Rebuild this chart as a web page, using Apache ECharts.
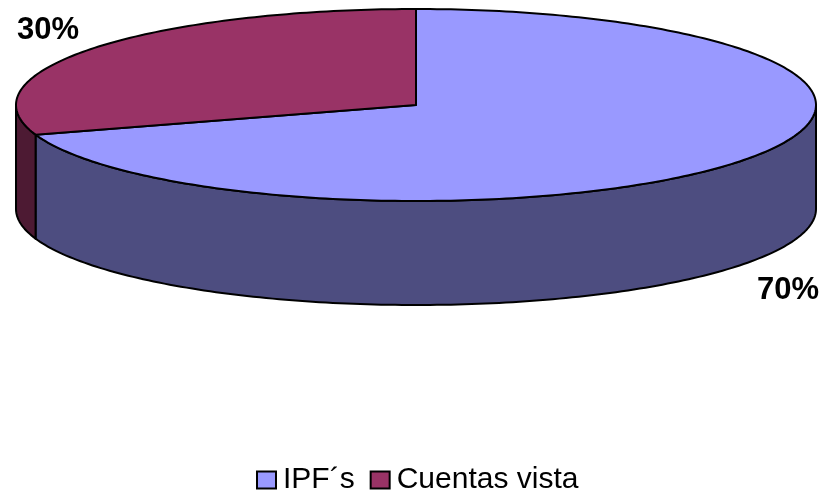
<!DOCTYPE html>
<html>
<head>
<meta charset="utf-8">
<style>
html,body{margin:0;padding:0;background:#fff}
#chart{width:824px;height:494px}
</style>
<script src="https://cdn.jsdelivr.net/npm/echarts@6/dist/echarts.min.js"></script>
</head>
<body>
<div id="chart"></div>
<script>
const categories = ['IPF´s', 'Cuentas vista'];
const values = [70, 30];
const topColors = ['#9999FF', '#993366'];
const wallColors = ['#4D4D80', '#4D1A33'];

// disc geometry, picture space
const cx = 416, cy = 105, rx = 400, ry = 96, depth = 104;
const labelPos = [[788, 290], [48, 30]];

const total = values.reduce((a, b) => a + b, 0);

// angle in degrees, clockwise from the top of the disc
function pt(deg, dy) {
    const t = deg * Math.PI / 180;
    return [cx + rx * Math.sin(t), cy - ry * Math.cos(t) + (dy || 0)];
}
function arc(from, to, dy) {
    const pts = [];
    const n = Math.max(2, Math.ceil(Math.abs(to - from)));
    for (let i = 0; i <= n; i++) {
        pts.push(pt(from + (to - from) * i / n, dy));
    }
    return pts;
}

function sliceItem(idx) {
    return function (params, api) {
        const start = values.slice(0, idx).reduce((a, b) => a + b, 0) / total * 360;
        const end = start + api.value(0) / total * 360;
        const line = { stroke: '#000', lineWidth: 2, lineJoin: 'round' };
        const children = [];

        // only the front half of the rim can be seen
        const a = Math.max(start, 90), b = Math.min(end, 270);
        if (b > a) {
            children.push({
                type: 'polygon',
                shape: { points: arc(a, b, 0).concat(arc(b, a, depth)) },
                style: Object.assign({ fill: wallColors[idx] }, line)
            });
        }
        children.push({
            type: 'polygon',
            shape: { points: [[cx, cy]].concat(arc(start, end, 0)) },
            style: Object.assign({ fill: topColors[idx] }, line)
        });
        children.push({
            type: 'text',
            style: {
                x: labelPos[idx][0],
                y: labelPos[idx][1],
                text: Math.round(api.value(0) / total * 100) + '%',
                fill: '#000',
                font: 'bold 31px "Liberation Sans"',
                align: 'center',
                verticalAlign: 'middle'
            }
        });
        return { type: 'group', children: children };
    };
}

const myChart = echarts.init(document.getElementById('chart'), null, { renderer: 'canvas' });
myChart.setOption({
    animation: false,
    backgroundColor: '#fff',
    legend: {
        data: categories,
        left: 256,
        top: 465,
        padding: 0,
        itemWidth: 19,
        itemHeight: 17,
        itemGap: 15,
        icon: 'rect',
        selectedMode: false,
        itemStyle: { borderColor: '#000', borderWidth: 2 },
        textStyle: { color: '#000', fontSize: 30, fontFamily: 'Liberation Sans', padding: [0, 0, 0, 2] }
    },
    series: categories.map((name, i) => ({
        type: 'custom',
        name: name,
        coordinateSystem: 'none',
        silent: true,
        itemStyle: { color: topColors[i] },
        renderItem: sliceItem(i),
        data: [[values[i]]]
    }))
});
</script>
</body>
</html>
